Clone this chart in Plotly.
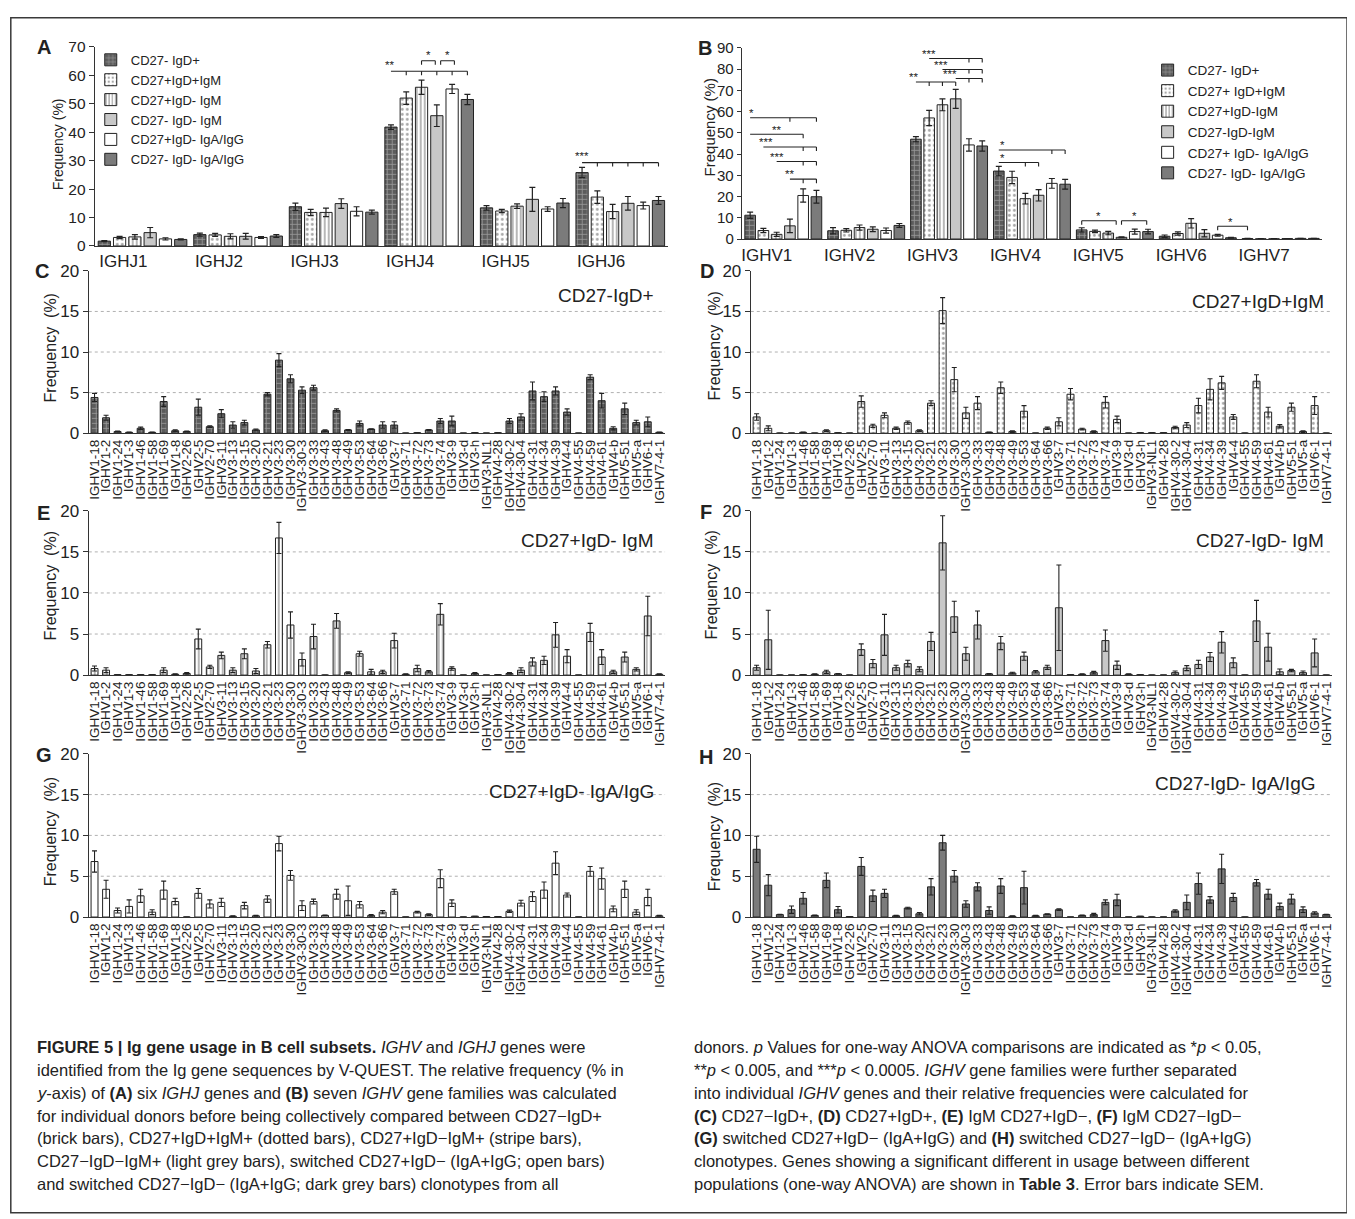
import plotly.graph_objects as go

W, H = 1355, 1219
NARROW = "Liberation Sans Narrow, Arial Narrow, Liberation Sans, Arial, sans-serif"
REG = "Liberation Sans, Arial, sans-serif"
INK = "#222222"

# ---------------- data ----------------
subset_names_a = ["CD27- IgD+", "CD27+IgD+IgM", "CD27+IgD- IgM", "CD27- IgD- IgM",
                  "CD27+IgD- IgA/IgG", "CD27- IgD- IgA/IgG"]
subset_names_b = ["CD27- IgD+", "CD27+ IgD+IgM", "CD27+IgD-IgM", "CD27-IgD-IgM",
                  "CD27+ IgD- IgA/IgG", "CD27- IgD- IgA/IgG"]

ighj_genes = ["IGHJ1", "IGHJ2", "IGHJ3", "IGHJ4", "IGHJ5", "IGHJ6"]
a_brick = [1.7, 4.0, 13.8, 41.8, 13.4, 25.8]
a_brick_err = [0.2, 0.5, 1.3, 0.8, 0.8, 1.8]
a_dotted = [3.0, 3.9, 11.8, 52.0, 12.3, 17.2]
a_dotted_err = [0.4, 0.5, 1.1, 2.2, 0.6, 2.2]
a_stripe = [3.2, 3.4, 11.8, 55.8, 14.0, 12.1]
a_stripe_err = [0.8, 0.9, 1.5, 2.5, 0.8, 2.5]
a_light = [4.7, 3.4, 14.9, 45.8, 16.4, 15.0]
a_light_err = [1.8, 1.0, 1.7, 3.8, 4.2, 2.4]
a_open = [2.5, 3.0, 12.2, 55.2, 13.0, 14.2]
a_open_err = [0.4, 0.3, 1.6, 1.6, 0.8, 1.2]
a_dark = [2.3, 3.5, 11.9, 51.5, 15.1, 16.0]
a_dark_err = [0.2, 0.5, 0.7, 1.8, 1.6, 1.4]

ighv_families = ["IGHV1", "IGHV2", "IGHV3", "IGHV4", "IGHV5", "IGHV6", "IGHV7"]
b_brick = [11.2, 3.9, 47.0, 32.0, 4.3, 1.3, 0.2]
b_brick_err = [1.5, 1.5, 1.2, 2.2, 1.0, 0.6, 0.1]
b_dotted = [4.0, 4.1, 57.0, 29.0, 3.6, 2.6, 0.1]
b_dotted_err = [1.0, 0.8, 3.6, 2.9, 0.6, 0.8, 0.05]
b_stripe = [2.2, 5.4, 63.2, 19.0, 2.8, 7.4, 0.1]
b_stripe_err = [1.0, 1.2, 2.8, 2.5, 0.8, 2.2, 0.05]
b_light = [6.2, 4.6, 66.0, 20.6, 0.8, 2.7, 0.2]
b_light_err = [3.2, 1.1, 4.5, 2.7, 0.2, 1.7, 0.05]
b_open = [20.5, 4.0, 44.3, 26.2, 3.5, 1.8, 0.3]
b_open_err = [3.1, 1.2, 2.9, 2.3, 1.2, 0.4, 0.05]
b_dark = [19.9, 6.4, 43.8, 25.8, 3.5, 0.6, 0.3]
b_dark_err = [3.0, 0.9, 2.4, 2.3, 1.1, 0.2, 0.05]

genes = ["IGHV1-18", "IGHV1-2", "IGHV1-24", "IGHV1-3", "IGHV1-46", "IGHV1-58", "IGHV1-69", "IGHV1-8",
         "IGHV2-26", "IGHV2-5", "IGHV2-70",
         "IGHV3-11", "IGHV3-13", "IGHV3-15", "IGHV3-20", "IGHV3-21", "IGHV3-23", "IGHV3-30", "IGHV3-30-3",
         "IGHV3-33", "IGHV3-43", "IGHV3-48", "IGHV3-49", "IGHV3-53", "IGHV3-64", "IGHV3-66", "IGHV3-7",
         "IGHV3-71", "IGHV3-72", "IGHV3-73", "IGHV3-74", "IGHV3-9", "IGHV3-d", "IGHV3-h", "IGHV3-NL1",
         "IGHV4-28", "IGHV4-30-2", "IGHV4-30-4", "IGHV4-31", "IGHV4-34", "IGHV4-39", "IGHV4-4", "IGHV4-55",
         "IGHV4-59", "IGHV4-61", "IGHV4-b",
         "IGHV5-51", "IGHV5-a", "IGHV6-1", "IGHV7-4-1"]

c_vals = [4.4, 1.9, 0.2, 0.1, 0.6, 0.1, 3.9, 0.3, 0.2, 3.2, 0.8,
          2.4, 1.0, 1.3, 0.4, 4.8, 9.0, 6.7, 5.3, 5.6, 0.3, 2.8, 0.4, 1.2, 0.5, 1.0, 1.0, 0.0, 0.05, 0.4, 1.5, 1.5, 0.0, 0.05, 0.0,
          0.05, 1.5, 2.0, 5.2, 4.5, 5.2, 2.6, 0.0, 6.9, 4.0, 0.6,
          3.0, 1.3, 1.4, 0.1]
c_err = [0.5, 0.3, 0.05, 0.05, 0.15, 0.05, 0.6, 0.1, 0.05, 1.0, 0.1,
         0.5, 0.4, 0.3, 0.1, 0.2, 0.8, 0.5, 0.4, 0.3, 0.1, 0.2, 0.05, 0.3, 0.05, 0.4, 0.4, 0, 0, 0.05, 0.3, 0.6, 0, 0, 0,
         0, 0.3, 0.4, 1.1, 0.6, 0.5, 0.4, 0, 0.3, 0.9, 0.2,
         0.7, 0.3, 0.6, 0.05]

d_vals = [2.0, 0.6, 0, 0, 0.1, 0, 0.3, 0.05, 0, 3.9, 0.9,
          2.2, 0.6, 1.3, 0.3, 3.7, 15.1, 6.6, 2.5, 3.7, 0.1, 5.6, 0.2, 2.7, 0, 0.6, 1.4, 4.8, 0.5, 0.2, 3.8, 1.7, 0, 0.05, 0.05,
          0.05, 0.7, 1.0, 3.4, 5.4, 6.2, 2.0, 0, 6.4, 2.6, 0.85,
          3.2, 0.2, 3.4, 0]
d_err = [0.4, 0.3, 0, 0, 0.05, 0, 0.1, 0, 0, 0.7, 0.2,
         0.3, 0.15, 0.2, 0.1, 0.3, 1.6, 1.5, 0.7, 0.8, 0.05, 0.7, 0.1, 0.7, 0, 0.15, 0.5, 0.7, 0.1, 0.1, 0.7, 0.4, 0, 0, 0,
         0, 0.15, 0.3, 0.9, 1.3, 0.8, 0.3, 0, 0.8, 0.6, 0.2,
         0.5, 0.1, 1.1, 0]

e_vals = [0.8, 0.6, 0.05, 0.05, 0.05, 0.05, 0.6, 0.1, 0.2, 4.4, 1.0,
          2.4, 0.6, 2.6, 0.5, 3.7, 16.7, 6.1, 1.9, 4.7, 0, 6.6, 0.3, 2.6, 0.4, 0.4, 4.2, 0.1, 0.8, 0.4, 7.4, 0.8, 0, 0.2, 0,
          0.05, 0.2, 0.6, 1.6, 1.8, 4.9, 2.3, 0, 5.2, 2.2, 0.4,
          2.2, 0.7, 7.2, 0.1]
e_err = [0.3, 0.3, 0, 0, 0, 0, 0.3, 0.05, 0.1, 1.2, 0.2,
         0.4, 0.3, 0.6, 0.3, 0.4, 1.9, 1.6, 0.8, 1.5, 0, 0.9, 0.1, 0.3, 0.3, 0.2, 0.9, 0.05, 0.4, 0.15, 1.3, 0.2, 0, 0.1, 0,
         0, 0.1, 0.3, 0.5, 0.5, 1.5, 0.8, 0, 1.1, 0.9, 0.2,
         0.6, 0.2, 2.4, 0.05]

f_vals = [0.9, 4.3, 0, 0, 0.05, 0.1, 0.4, 0.15, 0, 3.1, 1.4,
          4.9, 0.9, 1.4, 0.7, 4.1, 16.1, 7.1, 2.6, 6.1, 0.15, 3.9, 0.25, 2.3, 0.4, 0.95, 8.2, 0.05, 0.1, 0.3, 4.2, 1.2, 0.1, 0.05, 0,
          0, 0.3, 0.85, 1.3, 2.2, 4.0, 1.5, 0, 6.6, 3.4, 0.4,
          0.55, 0.3, 2.7, 0]
f_err = [0.3, 3.6, 0, 0, 0, 0.05, 0.2, 0.05, 0, 0.7, 0.5,
         2.5, 0.3, 0.4, 0.3, 1.1, 3.3, 1.9, 0.8, 1.7, 0.05, 0.8, 0.1, 0.5, 0.15, 0.25, 5.2, 0, 0.05, 0.15, 1.3, 0.5, 0.05, 0, 0,
         0, 0.2, 0.3, 0.5, 0.55, 1.3, 0.6, 0, 2.5, 1.7, 0.35,
         0.15, 0.2, 1.7, 0]

g_vals = [6.8, 3.4, 0.8, 1.3, 2.6, 0.6, 3.3, 1.9, 0, 2.9, 1.6,
          1.8, 0.1, 1.4, 0.15, 2.2, 9.0, 5.1, 1.4, 1.9, 0.2, 2.8, 2.0, 1.5, 0.2, 0.6, 3.1, 0, 0.6, 0.3, 4.7, 1.7, 0, 0.1, 0.05,
          0.05, 0.7, 1.7, 2.5, 3.3, 6.6, 2.7, 0, 5.6, 4.7, 1.0,
          3.4, 0.6, 2.4, 0.15]
g_err = [1.3, 1.1, 0.3, 0.8, 0.8, 0.3, 1.1, 0.4, 0, 0.6, 0.5,
         0.5, 0.05, 0.4, 0.05, 0.4, 0.9, 0.6, 0.6, 0.3, 0.05, 0.6, 1.8, 0.4, 0.1, 0.2, 0.3, 0, 0.1, 0.1, 1.1, 0.4, 0, 0, 0,
         0, 0.15, 0.35, 0.6, 1.0, 1.4, 0.25, 0, 0.6, 1.3, 0.35,
         1.0, 0.3, 1.0, 0.05]

h_vals = [8.3, 3.9, 0.3, 0.9, 2.3, 0.2, 4.5, 0.9, 0.05, 6.2, 2.6,
          2.9, 0.15, 1.1, 0.4, 3.7, 9.1, 5.0, 1.6, 3.7, 0.8, 3.8, 0.1, 3.6, 0.15, 0.35, 0.9, 0, 0.2, 0.3, 1.8, 2.1, 0, 0.1, 0,
          0, 0.75, 1.8, 4.1, 2.1, 5.9, 2.4, 0, 4.2, 2.8, 1.3,
          2.2, 0.9, 0.5, 0.3]
h_err = [1.6, 1.3, 0.05, 0.45, 0.7, 0.05, 0.9, 0.4, 0, 1.1, 0.7,
         0.5, 0.05, 0.1, 0.15, 1.0, 0.9, 0.7, 0.4, 0.5, 0.45, 0.9, 0.05, 2.0, 0.05, 0.05, 0.1, 0, 0.05, 0.15, 0.3, 0.7, 0, 0, 0,
         0, 0.15, 0.9, 1.3, 0.4, 1.8, 0.5, 0, 0.4, 0.6, 0.4,
         0.6, 0.35, 0.15, 0.05]

panel_titles = ["CD27-IgD+", "CD27+IgD+IgM", "CD27+IgD- IgM", "CD27-IgD- IgM",
                "CD27+IgD- IgA/IgG", "CD27-IgD- IgA/IgG"]

# ---------------- styles ----------------
STYLES = [
    dict(color="#5c5c5c", pattern=dict(shape="+", fgcolor="#d4d4d4", bgcolor="#5c5c5c", size=5, solidity=0.3)),
    dict(color="white", pattern=dict(shape=".", fgcolor="#4a4a4a", bgcolor="white", size=5, solidity=0.25)),
    dict(color="white", pattern=dict(shape="|", fgcolor="#333333", bgcolor="white", size=4, solidity=0.35)),
    dict(color="#c8c8c8"),
    dict(color="#ffffff"),
    dict(color="#7b7b7b"),
]
BARGAP = 0.04
GROUPGAP = 0.2


# layout positions below are given in reference-picture pixels and converted here
def RX(px):
    return px - 8


def RY(py):
    return 1.0114 * py - 17.2


def xd(p0, p1):
    return [RX(p0) / W, RX(p1) / W]


def yd(top, bottom):
    return [1 - RY(bottom) / H, 1 - RY(top) / H]


fig = go.Figure()

# ---------------- panels A and B ----------------
a_series = [(a_brick, a_brick_err), (a_dotted, a_dotted_err), (a_stripe, a_stripe_err),
            (a_light, a_light_err), (a_open, a_open_err), (a_dark, a_dark_err)]
b_series = [(b_brick, b_brick_err), (b_dotted, b_dotted_err), (b_stripe, b_stripe_err),
            (b_light, b_light_err), (b_open, b_open_err), (b_dark, b_dark_err)]

for j, (vals, err) in enumerate(a_series):
    fig.add_trace(go.Bar(
        x=list(range(len(ighj_genes))), y=vals, name=subset_names_a[j],
        xaxis="x", yaxis="y", legend="legend",
        marker=dict(line=dict(color=INK, width=1), **STYLES[j]),
        error_y=dict(type="data", array=err, visible=True, color=INK, thickness=1.2, width=3),
    ))
for j, (vals, err) in enumerate(b_series):
    fig.add_trace(go.Bar(
        x=list(range(len(ighv_families))), y=vals, name=subset_names_b[j],
        xaxis="x2", yaxis="y2", legend="legend2",
        marker=dict(line=dict(color=INK, width=1), **STYLES[j]),
        error_y=dict(type="data", array=err, visible=True, color=INK, thickness=1.2, width=3),
    ))

# ---------------- panels C-H ----------------
gene_panels = [(c_vals, c_err), (d_vals, d_err), (e_vals, e_err),
               (f_vals, f_err), (g_vals, g_err), (h_vals, h_err)]
for k, (vals, err) in enumerate(gene_panels):
    n = k + 3
    fig.add_trace(go.Bar(
        x=genes, y=vals, showlegend=False, width=0.6,
        xaxis=f"x{n}", yaxis=f"y{n}",
        marker=dict(line=dict(color=INK, width=1), **STYLES[k]),
        error_y=dict(type="data", array=err, visible=True, color=INK, thickness=1.1, width=2.5),
    ))

# ---------------- axes ----------------
axis_common = dict(showline=True, linecolor="#333333", linewidth=1.2, zeroline=False, showgrid=False)

lay = {}
lay["xaxis"] = dict(domain=xd(93, 668), range=[-0.5, 5.5], tickmode="array",
                    tickvals=[i - 0.2 for i in range(len(ighj_genes))], ticktext=ighj_genes,
                    ticks="", tickfont=dict(family=REG, size=17, color=INK), anchor="y", **axis_common)
lay["yaxis"] = dict(domain=yd(47, 247), range=[0, 70], dtick=10, ticks="outside", ticklen=5,
                    tickcolor="#333333", tickfont=dict(family=REG, size=15.5, color=INK), anchor="x",
                    **axis_common)
lay["xaxis2"] = dict(domain=xd(742, 1324), range=[-0.5, 6.5], tickmode="array",
                     tickvals=[i - 0.2 for i in range(len(ighv_families))], ticktext=ighv_families,
                     ticks="", tickfont=dict(family=REG, size=17, color=INK), anchor="y2", **axis_common)
lay["yaxis2"] = dict(domain=yd(48, 240), range=[0, 90], dtick=10, ticks="outside", ticklen=4,
                     tickcolor="#333333", tickfont=dict(family=REG, size=15, color=INK), anchor="x2",
                     **axis_common)

gene_domains = [
    (xd(87, 665), yd(272, 435)),
    (xd(751, 1334), yd(272, 435)),
    (xd(87, 665), yd(513, 678)),
    (xd(751, 1334), yd(513, 678)),
    (xd(87, 665), yd(757, 921)),
    (xd(751, 1334), yd(757, 921)),
]
for k, (xdom, ydom) in enumerate(gene_domains):
    n = k + 3
    lay[f"xaxis{n}"] = dict(domain=xdom, type="category", range=[-0.5, len(genes) - 0.5],
                            tickmode="array", tickvals=genes, ticktext=genes,
                            tickangle=-90, ticks="", tickfont=dict(family=REG, size=13.5, color=INK),
                            anchor=f"y{n}", **axis_common)
    lay[f"yaxis{n}"] = dict(domain=ydom, range=[0, 20], dtick=5, ticks="outside", ticklen=5,
                            tickcolor="#333333", tickfont=dict(family=REG, size=17, color=INK),
                            anchor=f"x{n}", **axis_common)

fig.update_layout(**lay)

# ---------------- shapes: gridlines, brackets, frame ----------------
shapes = []
grid_levels = [5, 10, 15]
for k in range(6):
    n = k + 3
    for gy in grid_levels:
        shapes.append(dict(type="line", xref=f"x{n} domain", yref=f"y{n}", x0=0, x1=1, y0=gy, y1=gy,
                           line=dict(color="#b0b0b0", width=1, dash="dot"), layer="below"))


def bar_center(group, j, n=6):
    slot = (1 - BARGAP) / n
    return group - (1 - BARGAP) / 2 + slot * (j + 0.5)


annotations = []

# brackets: (group0, j0, group1, j1, y, ticks, label, label j (from group0), label y)
brackets_a = [
    (3, 0, 3, 5, 61.4, [1, 2, 3, 4, 5], "**", -0.1, 63.6),
    (3, 2, 3, 2.9, 65.1, "ends", "*", 2.45, 67.2),
    (3, 3.25, 3, 4.15, 65.1, "ends", "*", 3.7, 67.2),
    (5, 0, 5, 5, 29.3, [1, 2, 3, 4, 5], "***", 0.0, 31.6),
]
brackets_b = [
    (0, 0, 0, 5, 57.1, [3, 5], "*", 0.1, 59.3),
    (0, 0, 0, 4, 49.3, [4], "**", 2.0, 51.5),
    (0, 1, 0, 5, 43.3, [4, 5], "***", 1.2, 45.5),
    (0, 2, 0, 5, 36.5, [4, 5], "***", 2.0, 38.7),
    (0, 3, 0, 5, 28.2, [4, 5], "**", 3.0, 30.4),
    (2, 0, 2, 3, 73.9, [1, 2, 3], "**", -0.2, 76.1),
    (2, 3, 2, 5, 75.6, [4, 5], "***", 2.6, 77.8),
    (2, 2, 2, 5, 79.8, [4, 5], "***", 1.9, 82.0),
    (2, 1, 2, 5, 85.0, [4, 5], "***", 1.0, 87.2),
    (3, 0, 3, 5, 41.9, [4, 5], "*", 0.3, 44.1),
    (3, 0, 3, 3, 36.0, [2, 3], "*", 0.3, 38.2),
    (4, 0, 4, 2.6, 8.6, "ends", "*", 1.3, 10.8),
    (4, 3, 4, 4.9, 8.6, "ends", "*", 3.95, 10.8),
    (5, 4, 6, 0, 6.0, "ends", "*", 5.0, 8.2),
]


def add_brackets(specs, xref, yref, ticklen):
    for g0, j0, g1, j1, y, ticks, label, lab_j, lab_y in specs:
        x0 = bar_center(g0, j0)
        x1 = bar_center(g1, j1)
        shapes.append(dict(type="line", xref=xref, yref=yref, x0=x0, x1=x1, y0=y, y1=y,
                           line=dict(color=INK, width=1.1)))
        if ticks == "ends":
            tx = [x0, x1]
        else:
            tx = [bar_center(g0, t) for t in ticks]
        for t in tx:
            shapes.append(dict(type="line", xref=xref, yref=yref, x0=t, x1=t, y0=y, y1=y - ticklen,
                               line=dict(color=INK, width=1.1)))
        annotations.append(dict(xref=xref, yref=yref, x=bar_center(g0, lab_j), y=lab_y, text=label,
                                showarrow=False, font=dict(family=REG, size=11.5, color=INK),
                                xanchor="center", yanchor="middle"))


add_brackets(brackets_a, "x", "y", 1.4)
add_brackets(brackets_b, "x2", "y2", 1.9)

# outer frame
shapes.append(dict(type="rect", xref="paper", yref="paper", x0=0.8 / W, x1=RX(1349) / W,
                   y0=1 - RY(1218) / H, y1=1 - 0.8 / H,
                   line=dict(color="#3a3a3a", width=1.5), fillcolor="rgba(0,0,0,0)"))


# ---------------- annotations ----------------
def paper_text(x, y, text, size, family=REG, xanchor="left", yanchor="middle", angle=0, bold=False):
    if bold:
        text = f"<b>{text}</b>"
    annotations.append(dict(xref="paper", yref="paper", x=RX(x) / W, y=1 - RY(y) / H, text=text,
                            showarrow=False, font=dict(family=family, size=size, color=INK),
                            xanchor=xanchor, yanchor=yanchor, textangle=angle))


# panel letters
for letter, px, py in [("A", 42, 47), ("B", 705, 48), ("C", 40, 272), ("D", 707, 272),
                       ("E", 42, 515), ("F", 706, 514), ("G", 42, 758), ("H", 706, 760)]:
    paper_text(px, py, letter, 20, family=REG, xanchor="center", bold=True)

# y axis titles
paper_text(57, 145, "Frequency (%)", 14, angle=-90, xanchor="center")
paper_text(710, 128, "Frequency (%)", 15, angle=-90, xanchor="center")
for px, py in [(49, 349), (715, 347), (49, 588), (712, 587), (49, 835), (714, 840)]:
    paper_text(px, py, "Frequency\u00a0\u00a0(%)", 16, angle=-90, xanchor="center")

# panel subtitles
sub_pos = [(17.0, 0.985), (16.2, 0.99), (16.4, 0.985), (16.4, 0.99), (15.4, 0.985), (16.4, 0.975)]
for k, (yy, xx) in enumerate(sub_pos):
    n = k + 3
    annotations.append(dict(xref=f"x{n} domain", yref=f"y{n}", x=xx, y=yy, text=panel_titles[k],
                            showarrow=False, xanchor="right", yanchor="middle",
                            font=dict(family=NARROW, size=19, color=INK)))

# caption
cap_left = [
    "<b>FIGURE 5 | Ig gene usage in B cell subsets.</b> <i>IGHV</i> and <i>IGHJ</i> genes were",
    "identified from the Ig gene sequences by V-QUEST. The relative frequency (% in",
    "<i>y</i>-axis) of <b>(A)</b> six <i>IGHJ</i> genes and <b>(B)</b> seven <i>IGHV</i> gene families was calculated",
    "for individual donors before being collectively compared between CD27\u2212IgD+",
    "(brick bars), CD27+IgD+IgM+ (dotted bars), CD27+IgD\u2212IgM+ (stripe bars),",
    "CD27\u2212IgD\u2212IgM+ (light grey bars), switched CD27+IgD\u2212 (IgA+IgG; open bars)",
    "and switched CD27\u2212IgD\u2212 (IgA+IgG; dark grey bars) clonotypes from all",
]
cap_right = [
    "donors. <i>p</i> Values for one-way ANOVA comparisons are indicated as *<i>p</i> &lt; 0.05,",
    "**<i>p</i> &lt; 0.005, and ***<i>p</i> &lt; 0.0005. <i>IGHV</i> gene families were further separated",
    "into individual <i>IGHV</i> genes and their relative frequencies were calculated for",
    "<b>(C)</b> CD27\u2212IgD+, <b>(D)</b> CD27+IgD+, <b>(E)</b> IgM CD27+IgD\u2212, <b>(F)</b> IgM CD27\u2212IgD\u2212",
    "<b>(G)</b> switched CD27+IgD\u2212 (IgA+IgG) and <b>(H)</b> switched CD27\u2212IgD\u2212 (IgA+IgG)",
    "clonotypes. Genes showing a significant different in usage between different",
    "populations (one-way ANOVA) are shown in <b>Table 3</b>. Error bars indicate SEM.",
]
for i, line in enumerate(cap_left):
    paper_text(33, 1052 + i * 22.8, line, 16.5)
for i, line in enumerate(cap_right):
    paper_text(692, 1052 + i * 22.8, line, 16.5)

fig.update_layout(
    width=W, height=H, margin=dict(l=0, r=0, t=0, b=0),
    paper_bgcolor="white", plot_bgcolor="white",
    barmode="group", bargap=BARGAP, bargroupgap=GROUPGAP,
    shapes=shapes, annotations=annotations,
    legend=dict(x=RX(89) / W, y=1 - RY(45) / H, xanchor="left", yanchor="top", bgcolor="rgba(0,0,0,0)",
                font=dict(family=REG, size=13, color=INK), itemwidth=30, tracegroupgap=0),
    legend2=dict(x=RX(1149) / W, y=1 - RY(55) / H, xanchor="left", yanchor="top", bgcolor="rgba(0,0,0,0)",
                 font=dict(family=REG, size=13.5, color=INK), itemwidth=30, tracegroupgap=0),
)

fig.write_html("out.html")
